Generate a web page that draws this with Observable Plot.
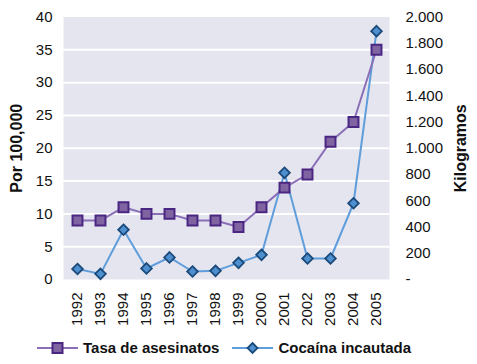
<!DOCTYPE html>
<html><head><meta charset="utf-8">
<script src="https://cdn.jsdelivr.net/npm/d3@7"></script>
<script src="https://cdn.jsdelivr.net/npm/@observablehq/plot@0.6"></script>
<style>
body{margin:0;background:#fff;font-family:"Liberation Sans",Arial,sans-serif;}
#chart{position:relative;width:477px;height:364px;overflow:hidden;}
#legend{position:absolute;left:37px;top:335px;height:25px;display:flex;align-items:center;font-weight:bold;font-size:15px;color:#111;white-space:nowrap;}
#legend .item{display:flex;align-items:center;margin-right:13px;}
#legend svg{margin-right:5px;}
</style></head><body><div id="chart"></div>
<script>
const years = ["1992","1993","1994","1995","1996","1997","1998","1999","2000","2001","2002","2003","2004","2005"];
const tasa = [9,9,11,10,10,9,9,8,11,14,16,21,24,35];
const cocaina = [80,43,379,84,168,61,66,127,188,813,160,160,581,1892];
const leftTicks = [0,5,10,15,20,25,30,35,40];
const kgTicks = [0,200,400,600,800,1000,1200,1400,1600,1800,2000];
const kgTickLabels = ["-","200","400","600","800","1.000","1.200","1.400","1.600","1.800","2.000"];
const seriesNames = ["Tasa de asesinatos","Cocaína incautada"];
const axisTitles = ["Por 100,000","Kilogramos"];
const colors = {tasaLine:"#8a6fb6", tasaFill:"#8064a2", tasaStroke:"#4a2683", cocaLine:"#5f9ddb", cocaFill:"#4d8fcf", cocaStroke:"#1b4a7a"};
const kgPerUnit = 2000/40;

const rows = years.map((y,i)=>({year:y, tasa:tasa[i], coca:cocaina[i]/kgPerUnit}));
const font = '"Liberation Sans", Arial, sans-serif';

const chart = Plot.plot({
  width:477, height:335,
  marginTop:16.5, marginBottom:56, marginLeft:63, marginRight:88,
  style:{fontFamily:font, fontSize:"15px", color:"#111", background:"transparent", overflow:"visible"},
  x:{type:"point", domain:years, padding:0.5},
  y:{domain:[0,40]},
  marks:[
    Plot.frame({fill:"#e5e5f0", stroke:null}),
    Plot.gridY(leftTicks.slice(1,-1), {stroke:"#fff", strokeOpacity:1, strokeWidth:2}),
    Plot.axisY(leftTicks, {anchor:"left", tickSize:0, tickPadding:11, label:null}),
    Plot.axisY(kgTicks.map(k=>k/kgPerUnit), {anchor:"right", tickSize:0, tickPadding:16, label:null,
      tickFormat: d => kgTickLabels[kgTicks.indexOf(Math.round(d*kgPerUnit))]}),
    Plot.axisX({tickSize:0, tickPadding:13, tickRotate:-90, label:null}),
    Plot.text([axisTitles[0]], {frameAnchor:"left", textAnchor:"middle", dx:-47, dy:0, rotate:-90, fontWeight:"bold", fontSize:16, fill:"#111"}),
    Plot.text([axisTitles[1]], {frameAnchor:"right", textAnchor:"middle", dx:71, rotate:-90, fontWeight:"bold", fontSize:16, fill:"#111"}),
    Plot.line(rows, {x:"year", y:"coca", stroke:colors.cocaLine, strokeWidth:2}),
    Plot.line(rows, {x:"year", y:"tasa", stroke:colors.tasaLine, strokeWidth:2}),
    Plot.dot(rows, {x:"year", y:"tasa", symbol:"square", r:5.6, fill:colors.tasaFill, stroke:colors.tasaStroke, strokeWidth:2}),
    Plot.dot(rows, {x:"year", y:"coca", symbol:"diamond2", r:4.8, fill:colors.cocaFill, stroke:colors.cocaStroke, strokeWidth:1.8})
  ]
});
const root = document.getElementById("chart");
root.appendChild(chart);

const legend = document.createElement("div");
legend.id = "legend";
const icons = [
  `<svg width="41" height="16"><line x1="0" y1="8" x2="41" y2="8" stroke="${colors.tasaLine}" stroke-width="2"/><rect x="15.5" y="3" width="10" height="10" fill="${colors.tasaFill}" stroke="${colors.tasaStroke}" stroke-width="2"/></svg>`,
  `<svg width="41" height="16"><line x1="0" y1="8" x2="41" y2="8" stroke="${colors.cocaLine}" stroke-width="2"/><path d="M20.5,3 L25.5,8 L20.5,13 L15.5,8 Z" fill="${colors.cocaFill}" stroke="${colors.cocaStroke}" stroke-width="1.8"/></svg>`
];
seriesNames.forEach((n,i)=>{
  const it = document.createElement("div");
  it.className = "item";
  it.innerHTML = icons[i] + `<span>${n}</span>`;
  legend.appendChild(it);
});
root.appendChild(legend);
</script>
</body></html>
